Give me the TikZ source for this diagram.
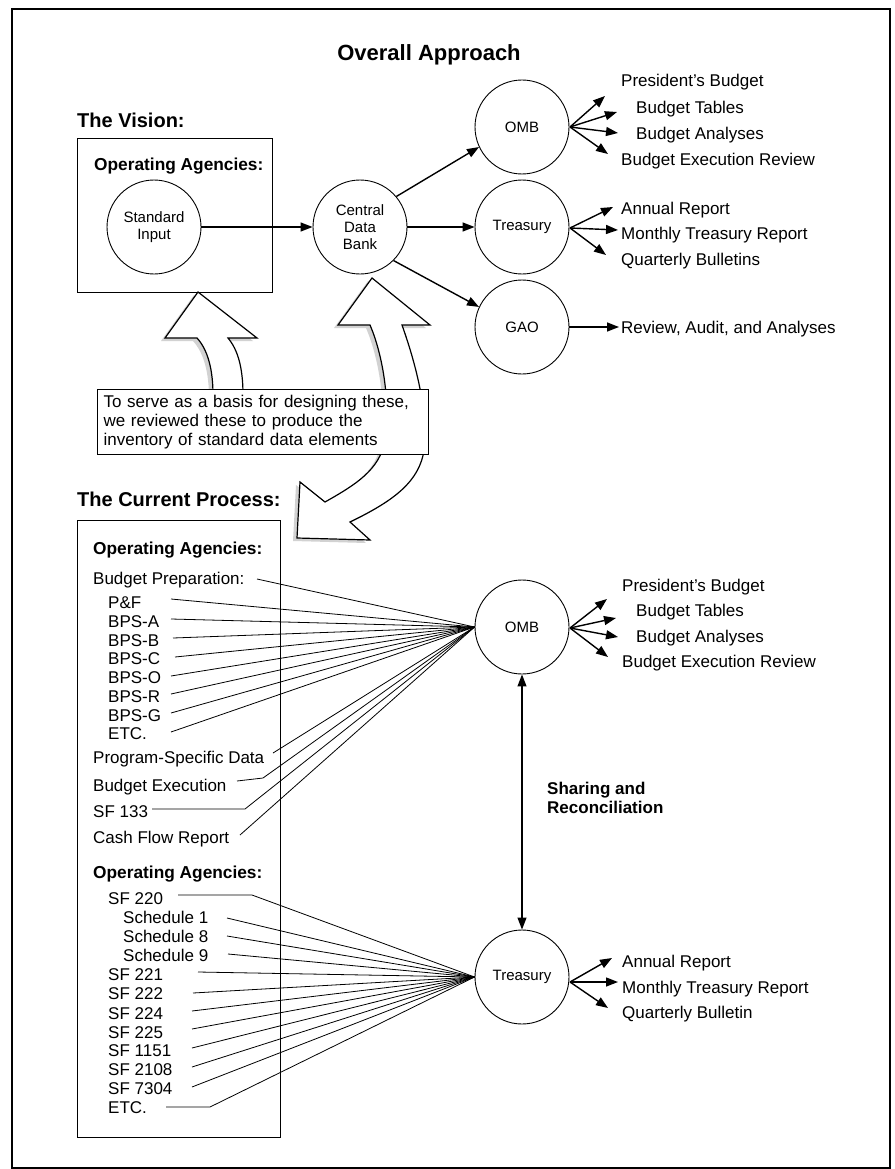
\documentclass[tikz,border=0pt]{standalone}
\usepackage{fontspec}
\setmainfont{Liberation Sans}
\usetikzlibrary{arrows.meta}
\begin{document}
\begin{tikzpicture}[x=1pt,y=-1pt,
  lbl/.style={font=\fontsize{17}{19}\selectfont, inner sep=0pt, text height=12.3pt, text depth=0pt, anchor=west},
  hd/.style={font=\fontsize{20}{22}\selectfont\bfseries, inner sep=0pt, text height=14.4pt, text depth=0pt, anchor=west},
  sub/.style={font=\fontsize{17.3}{19}\selectfont\bfseries, inner sep=0pt, text height=12.5pt, text depth=0pt, anchor=west},
  circ/.style={circle, draw, line width=0.9pt, minimum size=94pt, inner sep=0pt, font=\fontsize{15}{17}\selectfont, align=center},
  arr/.style={line width=1.4pt, -{Triangle[length=12pt,width=9pt]}},
  fan/.style={line width=0.8pt},
  frame/.style={draw, line width=1.4pt, inner sep=0pt, anchor=north west},
  hollow/.style={fill=white, draw, line width=1.2pt, line join=miter},
  shade/.style={fill=gray!35, draw=none}
]
\useasboundingbox (0,0) rectangle (894,1169);
\draw[line width=1.2pt] (12,9) rectangle (890,1168);

% ---------- hollow arrows (behind the note box) ----------
\fill[shade, shift={(-4,3)}] (198,292) -- (257,338) -- (228,338) .. controls (238,350) and (243,368) .. (243,395) -- (213,395) .. controls (213,370) and (208,350) .. (197,338) -- (165,338) -- cycle;
\fill[shade, shift={(-4,3)}] (372,278) -- (430,325) -- (402,325) .. controls (418,370) and (426,410) .. (425,440) .. controls (424,480) and (395,500) .. (350,522) -- (370,540) -- (297,538) -- (300,482) -- (325,502) .. controls (355,485) and (380,470) .. (385,440) .. controls (390,410) and (385,360) .. (370,325) -- (338,325) -- cycle;
\path[hollow] (198,292) -- (257,338) -- (228,338) .. controls (238,350) and (243,368) .. (243,395) -- (213,395) .. controls (213,370) and (208,350) .. (197,338) -- (165,338) -- cycle;
\path[hollow] (372,278) -- (430,325) -- (402,325) .. controls (418,370) and (426,410) .. (425,440) .. controls (424,480) and (395,500) .. (350,522) -- (370,540) -- (297,538) -- (300,482) -- (325,502) .. controls (355,485) and (380,470) .. (385,440) .. controls (390,410) and (385,360) .. (370,325) -- (338,325) -- cycle;

\node[draw, fill=white, line width=1.2pt, anchor=north west, minimum width=331pt, minimum height=65pt, inner xsep=6pt, inner ysep=0pt, align=left, text width=319pt, font=\fontsize{17}{19}\selectfont] (note) at (97,389)
  {To serve as a basis for designing these,\\we reviewed these to produce the\\inventory of standard data elements};

% ---------- title and vision ----------
\node[font=\fontsize{22}{26}\selectfont\bfseries, inner sep=0pt, text height=16pt, text depth=0pt] (title) at (429,53) {Overall Approach};
\node[hd] (vision) at (77,120) {The Vision:};
\node[frame, minimum width=195pt, minimum height=154pt] (vbox) at (77,138) {};
\node[sub] (oa0) at (94,164) {Operating Agencies:};
\node[circ] (std) at (154,227) {Standard\\Input};
\node[circ] (cdb) at (360,227) {Central\\Data\\Bank};
\node[circ] (omb1) at (522,127) {OMB};
\node[circ] (tres1) at (522,227) {Treasury};
\node[circ] (gao) at (522,327) {GAO};

\draw[arr] (std) -- (cdb);
\draw[arr] (cdb.40) -- (omb1.205);
\draw[arr] (cdb.east) -- (tres1.west);
\draw[arr] (cdb.-45) -- (gao.155);

\node[lbl] (pb1) at (621,80) {President's Budget};
\node[lbl] (bt1) at (636,107) {Budget Tables};
\node[lbl] (ba1) at (636,133) {Budget Analyses};
\node[lbl] (ber1) at (621,159) {Budget Execution Review};
\coordinate (o1s) at (570,127);
\coordinate (o1a) at (605,96);
\coordinate (o1b) at (617,112);
\coordinate (o1c) at (618,133);
\coordinate (o1d) at (608,154);
\foreach \t in {o1a,o1b,o1c,o1d} \draw[arr] (o1s) -- (\t);

\node[lbl] (ar1) at (621,208) {Annual Report};
\node[lbl] (mt1) at (621,233) {Monthly Treasury Report};
\node[lbl] (qb1) at (621,259) {Quarterly Bulletins};
\coordinate (t1s) at (570,228);
\coordinate (t1a) at (613,207);
\coordinate (t1b) at (618,230);
\coordinate (t1c) at (606,255);
\foreach \t in {t1a,t1b,t1c} \draw[arr] (t1s) -- (\t);

\node[lbl] (rev) at (621,327) {Review, Audit, and Analyses};
\draw[arr] (gao.east) -- ([xshift=-2pt]rev.west);

% ---------- current process ----------
\node[hd] (cur) at (77,499) {The Current Process:};
\node[frame, minimum width=203pt, minimum height=617pt] (cbox) at (77,520) {};
\node[sub] (oa1) at (93,548) {Operating Agencies:};
\node[sub] (oa2) at (93,872) {Operating Agencies:};

\node[circ] (omb2) at (522,627) {OMB};
\node[circ] (tres2) at (522,977) {Treasury};
\draw[line width=1.1pt, {Triangle[length=12pt,width=9pt]}-{Triangle[length=12pt,width=9pt]}] (omb2) -- (tres2);
\node[font=\fontsize{17}{19}\selectfont\bfseries, inner sep=0pt, anchor=west, align=left] (share) at (547,797.5) {Sharing and\\Reconciliation};

\node[lbl] (pb2) at (622,585) {President's Budget};
\node[lbl] (bt2) at (636,610) {Budget Tables};
\node[lbl] (ba2) at (636,636) {Budget Analyses};
\node[lbl] (ber2) at (622,661) {Budget Execution Review};
\coordinate (o2s) at (570,628);
\coordinate (o2a) at (607,599);
\coordinate (o2b) at (616,618);
\coordinate (o2c) at (618,637);
\coordinate (o2d) at (608,657);
\foreach \t in {o2a,o2b,o2c,o2d} \draw[arr] (o2s) -- (\t);

\node[lbl] (ar2) at (622,961) {Annual Report};
\node[lbl] (mt2) at (622,987) {Monthly Treasury Report};
\node[lbl] (qb2) at (622,1012) {Quarterly Bulletin};
\coordinate (t2s) at (570,982);
\coordinate (t2a) at (612,958);
\coordinate (t2b) at (618,982);
\coordinate (t2c) at (608,1008);
\foreach \t in {t2a,t2b,t2c} \draw[arr] (t2s) -- (\t);

% group 1 -> OMB
\foreach \n/\t/\x/\y/\sx/\sy in {
  bp/{Budget Preparation:}/93/578/257/579,
  pf/{P\&F}/108/602/171/599,
  bpsa/{BPS-A}/108/621/171/619,
  bpsb/{BPS-B}/108/640/173/638,
  bpsc/{BPS-C}/108/658/175/657,
  bpso/{BPS-O}/108/677/171/676,
  bpsr/{BPS-R}/108/696/171/694,
  bpsg/{BPS-G}/108/715/171/713,
  etca/{ETC.}/108/733/171/732,
  psd/{Program-Specific Data}/93/757/273/753,
  cfr/{Cash Flow Report}/93/837/240/835}
{
  \node[lbl] (\n) at (\x,\y) {\t};
  \coordinate (\n-s) at (\sx,\sy);
  \draw[fan] (\n-s) -- (omb2.west);
}
\node[lbl] (bex) at (93,785) {Budget Execution};
\coordinate (bex-s) at (237,781);
\coordinate (bex-k) at (263,778);
\draw[fan] (bex-s) -- (bex-k) -- (omb2.west);
\node[lbl] (sf133) at (93,811) {SF 133};
\coordinate (sf133-s) at (152,809);
\coordinate (sf133-k) at (245,809);
\draw[fan] (sf133-s) -- (sf133-k) -- (omb2.west);

% group 2 -> Treasury
\foreach \n/\t/\x/\y/\sx/\sy in {
  sch1/{Schedule 1}/123/917/227/918,
  sch8/{Schedule 8}/123/936/227/936,
  sch9/{Schedule 9}/123/955/228/954,
  sfa/{SF 221}/108/974/198/972,
  sfb/{SF 222}/108/993/193/993,
  sfc/{SF 224}/108/1013/192/1011,
  sfd/{SF 225}/108/1032/192/1029,
  sfe/{SF 1151}/108/1050/192/1048,
  sff/{SF 2108}/108/1069/192/1067,
  sfg/{SF 7304}/108/1088/192/1087}
{
  \node[lbl] (\n) at (\x,\y) {\t};
  \coordinate (\n-s) at (\sx,\sy);
  \draw[fan] (\n-s) -- (tres2.west);
}
\node[lbl] (sf220) at (108,898) {SF 220};
\coordinate (sf220-s) at (178,895);
\coordinate (sf220-k) at (252,895);
\draw[fan] (sf220-s) -- (sf220-k) -- (tres2.west);
\node[lbl] (etcb) at (108,1107) {ETC.};
\coordinate (etcb-s) at (166,1107);
\coordinate (etcb-k) at (210,1107);
\draw[fan] (etcb-s) -- (etcb-k) -- (tres2.west);
\end{tikzpicture}
\end{document}
